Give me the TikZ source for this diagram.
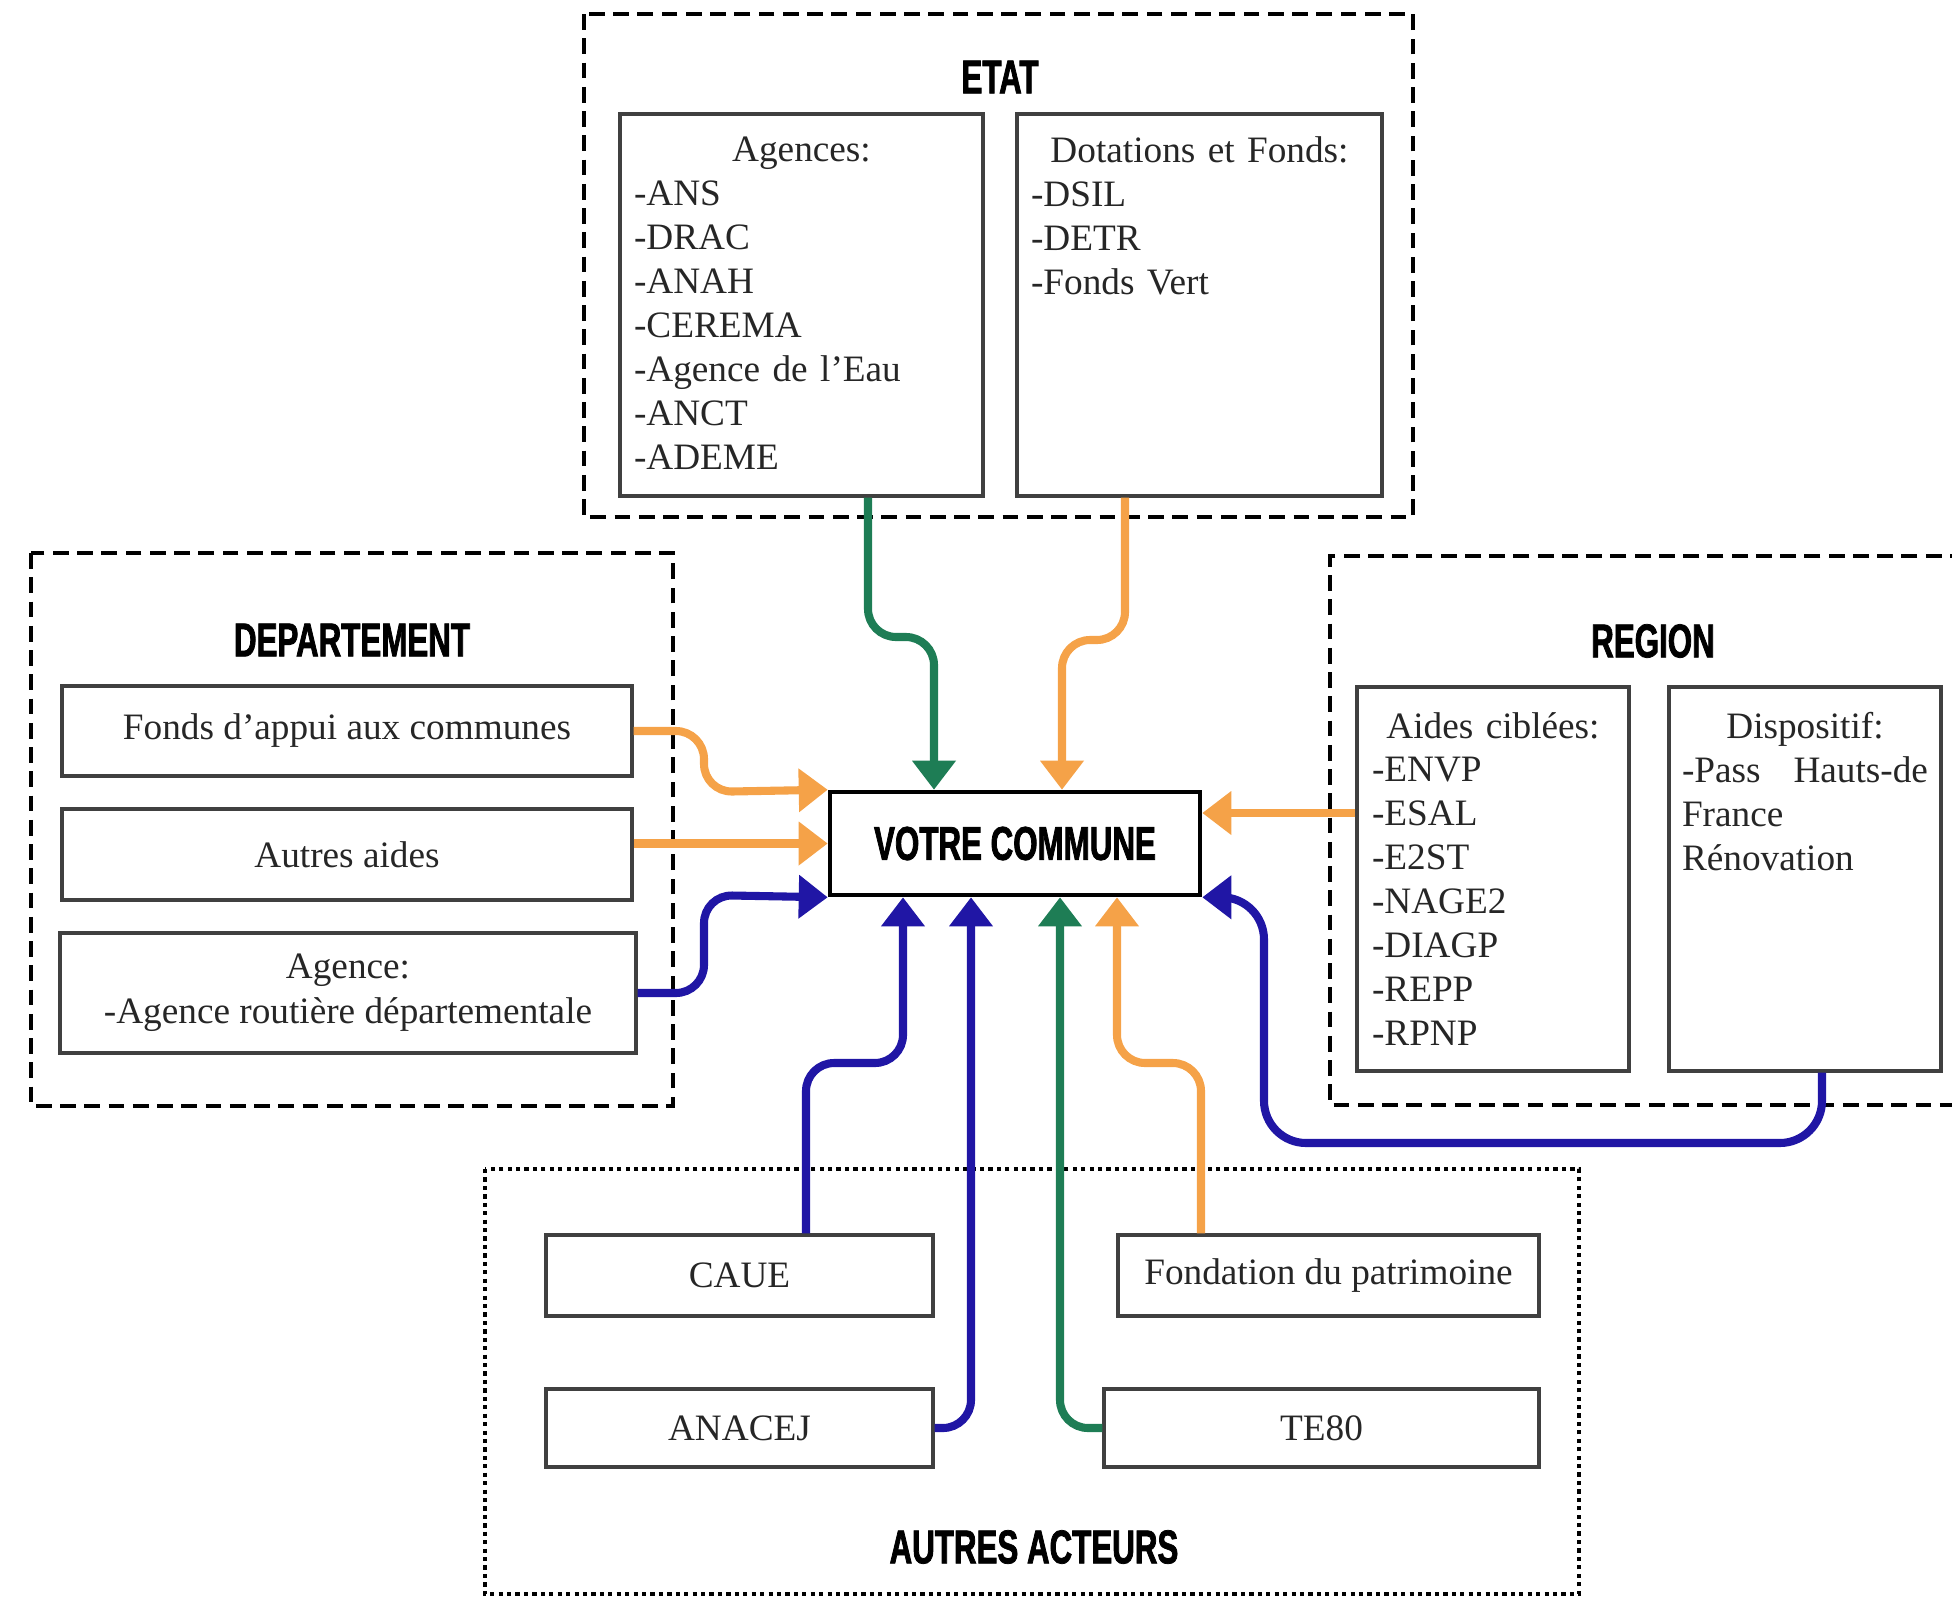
\documentclass[tikz,border=0pt]{standalone}
\usepackage{fontspec}
\setmainfont{Liberation Serif}
\newfontfamily\titlefont[FakeStretch=0.66,FakeBold=1.6]{Liberation Sans}
\usetikzlibrary{arrows.meta}
\usetikzlibrary{positioning}

\definecolor{vert}{RGB}{30,125,85}
\definecolor{orng}{RGB}{245,162,72}
\definecolor{bleu}{RGB}{32,22,165}

\tikzset{
  cadre/.style={line width=1.2pt, dash pattern=on 4.5pt off 2.4pt},
  cadrepts/.style={line width=1.2pt, dash pattern=on 1.2pt off 1.2pt},
  titre/.style={inner sep=0, font=\titlefont\bfseries\fontsize{13.5}{16}\selectfont},
  boite/.style={draw=black!75, line width=.9pt, inner sep=0, align=center, text=black!85, font=\fontsize{10.6}{12.7}\selectfont},
  liste/.style={inner sep=0, align=left, text=black!85, font=\fontsize{10.6}{12.5}\selectfont},
  fleche/.style={line width=2.3pt, rounded corners=8pt, -{Triangle[width=4.2mm,length=2.9mm]}},
}

\begin{document}
\begin{tikzpicture}[x=.1mm, y=-.1mm]
\useasboundingbox (0,0) rectangle (1952,1597);

\draw[cadre] (584,14) rectangle (1413,517);
\node[titre] (etat) at (1000,77) {ETAT};
\node[boite, minimum width=3.63cm, minimum height=3.82cm] (ag) at (801.5,305) {};
\node[boite, minimum width=3.65cm, minimum height=3.82cm] (df) at (1199.5,305) {};
\node[liste, text width=3.35cm, below=.24cm of ag.north] (agt) {\hfill\mbox{Agences:}\hfill\mbox{}\\-ANS\\-DRAC\\-ANAH\\-CEREMA\\-Agence de l’Eau\\-ANCT\\-ADEME};
\node[liste, text width=3.37cm, below=.24cm of df.north] (dft) {\hfill\mbox{Dotations et Fonds:}\hfill\mbox{}\\-DSIL\\-DETR\\-Fonds Vert};

\draw[cadre] (31,553) rectangle (673,1106);
\node[titre] (dept) at (352,640) {DEPARTEMENT};
\node[boite, minimum width=5.7cm, minimum height=.9cm] (fa) at (347,731) {Fonds d’appui aux communes};
\node[boite, minimum width=5.7cm, minimum height=.91cm] (aa) at (347,854.5) {Autres aides};
\node[boite, minimum width=5.76cm, minimum height=1.2cm] (ar) at (348,993) {Agence:\\-Agence routière départementale};

\draw[cadre] (1990,556) -- (1330,556) -- (1330,1105) -- (1990,1105);
\node[titre] (reg) at (1653,641) {REGION};
\node[boite, minimum width=2.72cm, minimum height=3.84cm] (ac) at (1493,879) {};
\node[boite, minimum width=2.72cm, minimum height=3.84cm] (dp) at (1805,879) {};
\node[liste, text width=2.42cm, below=.26cm of ac.north] (act) {\hfill\mbox{Aides ciblées:}\hfill\mbox{}\\-ENVP\\-ESAL\\-E2ST\\-NAGE2\\-DIAGP\\-REPP\\-RPNP};
\node[liste, text width=2.46cm, below=.26cm of dp.north] (dpt) {\hfill\mbox{Dispositif:}\hfill\mbox{}\\-Pass\hfill Hauts-de\\France\\Rénovation};

\draw[cadrepts] (485,1169) rectangle (1579,1594);
\node[titre] (autres) at (1034,1547) {AUTRES ACTEURS};
\node[boite, minimum width=3.87cm, minimum height=.81cm] (ca) at (739.5,1275.5) {CAUE};
\node[boite, minimum width=4.21cm, minimum height=.81cm] (fd) at (1328.5,1275.5) {Fondation du patrimoine};
\node[boite, minimum width=3.87cm, minimum height=.78cm] (an) at (739.5,1428) {ANACEJ};
\node[boite, minimum width=4.35cm, minimum height=.78cm] (te) at (1321.5,1428) {TE80};

\node[titre, draw=black, line width=1.3pt, minimum width=3.7cm, minimum height=1.03cm] (vc) at (1015,843.5) {VOTRE COMMUNE};

\draw[fleche, vert] (ag.south -| 868,0) -- (868,637) -| (vc.north -| 934,0);
\draw[fleche, orng] (df.south -| 1125,0) -- (1125,640) -| (vc.north -| 1062,0);
\draw[fleche, orng] (fa.east) -| (704,792) -- (vc.north west);
\draw[fleche, orng] (aa.east |- vc.west) -- (vc.west);
\draw[fleche, bleu] (ar.east) -| (704,895) -- (vc.south west);
\draw[fleche, orng] (ac.west |- 0,813) -- (vc.east |- 0,813);
\draw[fleche, bleu, rounded corners=12pt] (dp.south -| 1822,0) |- (1264,1143) |- (vc.south east);
\draw[fleche, bleu] (ca.north -| 806,0) -- (806,1063) -| (vc.south -| 903,0);
\draw[fleche, bleu] (an.east) -| (vc.south -| 971,0);
\draw[fleche, vert] (te.west) -| (vc.south -| 1060,0);
\draw[fleche, orng] (fd.north -| 1201,0) -- (1201,1063) -| (vc.south -| 1117,0);
\end{tikzpicture}
\end{document}
